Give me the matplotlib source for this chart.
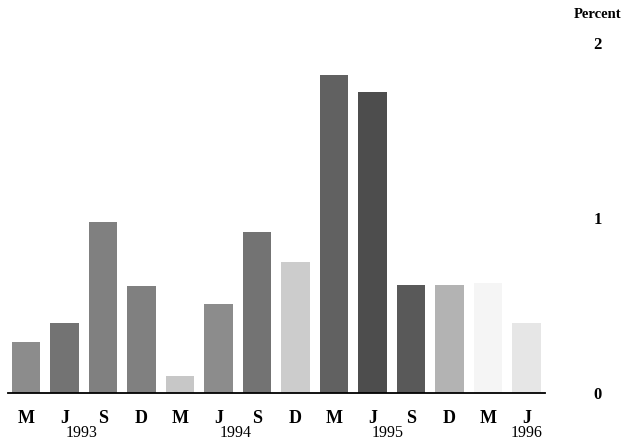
import numpy as np
import matplotlib.pyplot as plt
from matplotlib import rcParams
rcParams['font.family'] = 'serif'
rcParams['font.serif'] = ['Liberation Serif', 'DejaVu Serif']

months = ['M', 'J', 'S', 'D', 'M', 'J', 'S', 'D', 'M', 'J', 'S', 'D', 'M', 'J']
years = ['1993', '1994', '1995', '1996']
year_pos = [1.45, 5.45, 9.4, 13.0]   # under which bar the year label sits
values = [0.29, 0.40, 0.98, 0.61, 0.10, 0.51, 0.92, 0.75,
          1.82, 1.72, 0.62, 0.62, 0.63, 0.40]
# grey level of each stippled bar (scan is dotted, so use flat greys)
shades = ['0.55', '0.45', '0.50', '0.50', '0.78', '0.55', '0.45', '0.80',
          '0.38', '0.30', '0.35', '0.70', '0.96', '0.90']

fig = plt.figure(figsize=(6.32, 4.42), dpi=100)
ax = fig.add_axes([8/632, 49/442, 537/632, 393/442])

x = np.arange(len(values))
ax.bar(x, values, width=0.73, color=shades, edgecolor='none')

ax.set_xlim(-0.468, 13.48)
ax.set_ylim(0, 2.246)
for s in ['top', 'left', 'right']:
    ax.spines[s].set_visible(False)
ax.spines['bottom'].set_linewidth(1.3)

ax.set_xticks(x)
ax.set_xticklabels(months, fontsize=13, fontweight='bold')
ax.tick_params(axis='x', length=0, pad=12)

ax.yaxis.tick_right()
ax.set_yticks([0, 1, 2])
ax.set_yticklabels(['0', '1', '2'], fontsize=12, fontweight='bold')
ax.tick_params(axis='y', length=0, pad=35)

for yr, p in zip(years, year_pos):
    ax.text(p, -0.23, yr, ha='center', va='center', fontsize=11.5,
            transform=ax.transData, clip_on=False)

fig.text(598/632, 1 - 15/442, 'Percent', ha='center', va='center',
         fontsize=10.5, fontweight='bold')

fig.savefig('out.png', dpi=100)
